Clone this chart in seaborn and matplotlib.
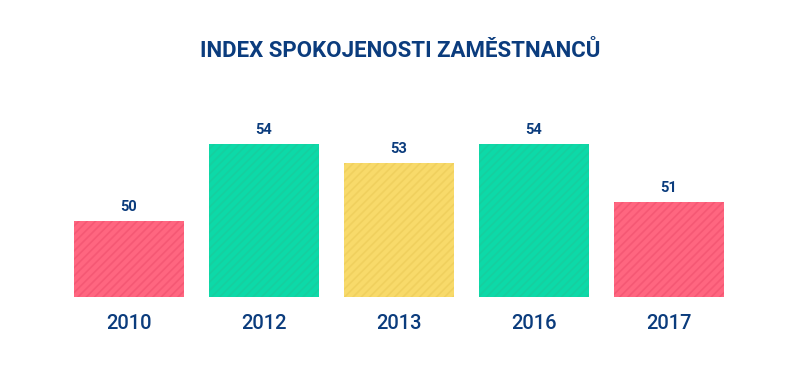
import numpy as np
import pandas as pd
import seaborn as sns
import matplotlib.pyplot as plt

years = ["2010", "2012", "2013", "2016", "2017"]
scores = [50, 54, 53, 54, 51]
bar_colors = ["#FF6680", "#0DD9A8", "#F8DA6A", "#0DD9A8", "#FF6680"]
hatch_colors = ["#F55874", "#16CFA0", "#F0D05E", "#16CFA0", "#F55874"]

navy = "#0B3C7D"

sns.set_theme(style="white")
plt.rcParams["font.family"] = ["Roboto", "DejaVu Sans"]
plt.rcParams["hatch.linewidth"] = 1.2

df = pd.DataFrame({"year": years, "score": scores})

fig = plt.figure(figsize=(8, 3.83), dpi=100)
ax = fig.add_axes([61.5 / 800, (383 - 297) / 383, 675 / 800, 197 / 383])

sns.barplot(data=df, x="year", y="score", hue="year", palette=bar_colors,
            width=0.81, legend=False, ax=ax, saturation=1)

for bar, hc in zip(ax.patches, hatch_colors):
    bar.set_hatch("////")
    bar.set_edgecolor(hc)
    bar.set_linewidth(0)

ax.set_ylim(46.07, 56.26)
ax.set_xlim(-0.5, 4.5)

for i, v in enumerate(scores):
    ax.annotate(str(v), (i, v), xytext=(0, 5), textcoords="offset points",
                ha="center", va="bottom", fontsize=10.5, fontweight="bold", color=navy)

ax.set_xlabel("")
ax.set_ylabel("")
ax.set_yticks([])
ax.tick_params(axis="x", length=0, pad=12, labelsize=14.5, labelcolor=navy)
for lbl in ax.get_xticklabels():
    lbl.set_fontweight("medium")
sns.despine(ax=ax, left=True, bottom=True)

fig.text(0.5, 1 - 51 / 383, "INDEX SPOKOJENOSTI ZAMĚSTNANCŮ", ha="center", va="center",
         fontsize=16, fontweight="bold", color=navy)

plt.savefig("out.png", dpi=100)
